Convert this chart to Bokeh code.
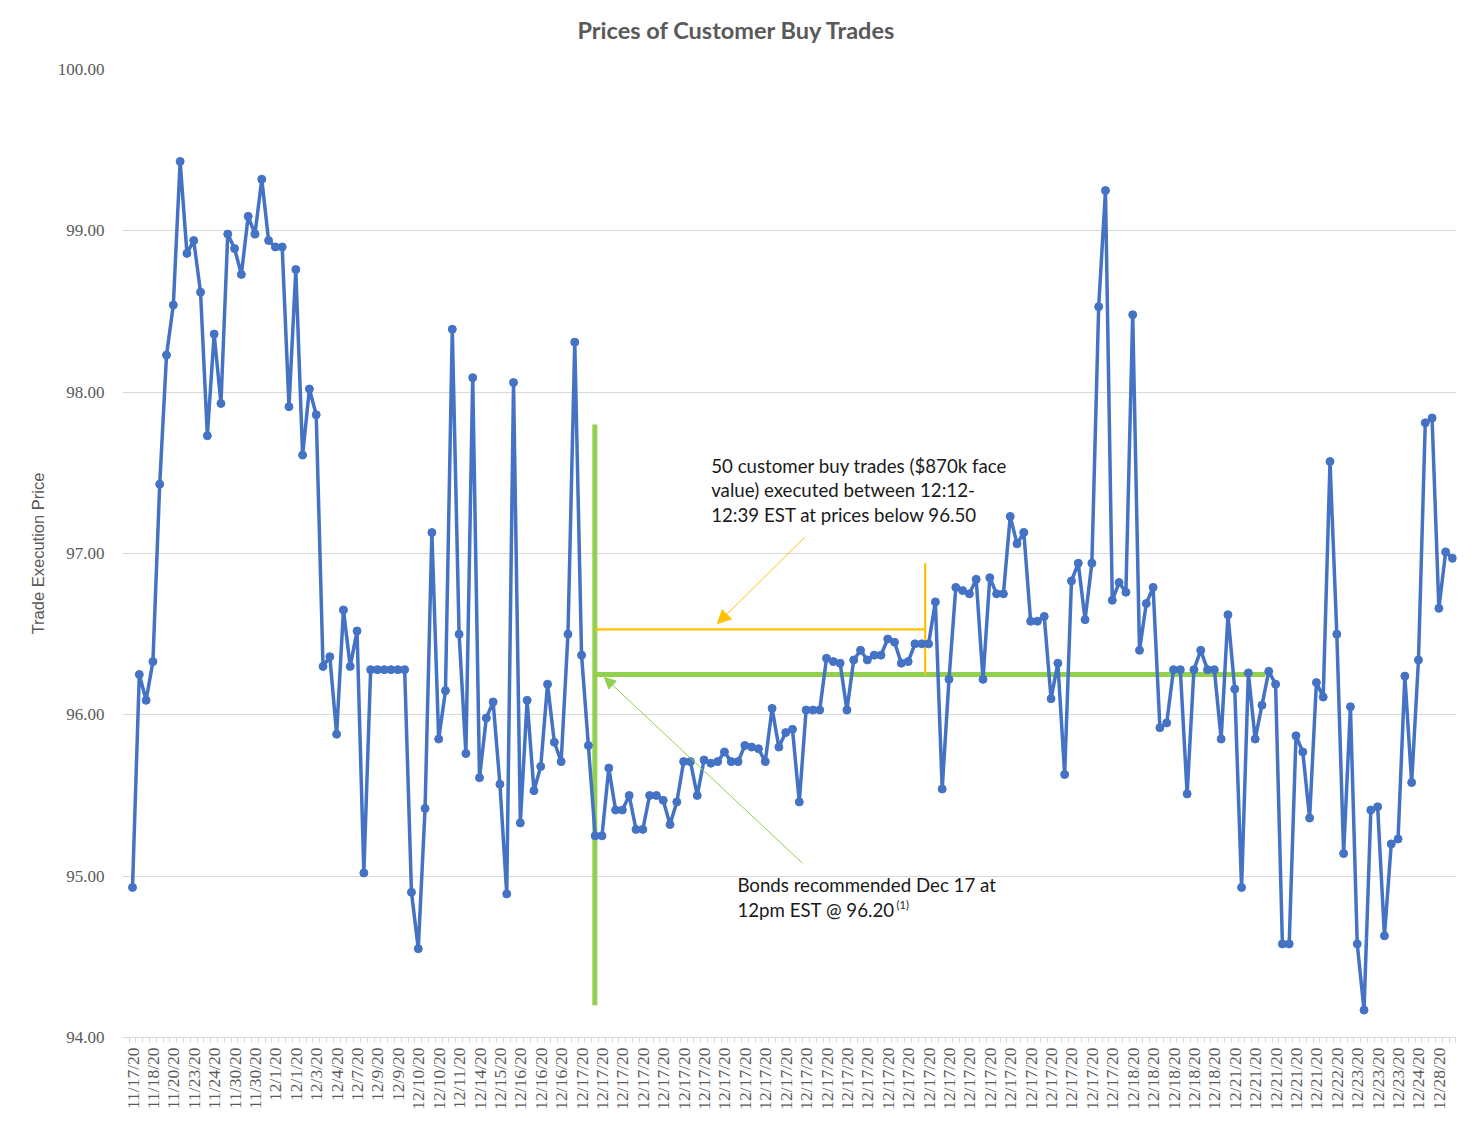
import math
from bokeh.plotting import figure
from bokeh.models import (Range1d, FixedTicker, NumeralTickFormatter, Label,
                          Arrow, NormalHead)
from bokeh.embed import file_html
from bokeh.resources import INLINE

# ---------------- data ----------------
tick_labels = (
    ["11/17/20", "11/18/20", "11/20/20", "11/23/20", "11/24/20", "11/30/20",
     "11/30/20", "12/1/20", "12/1/20", "12/3/20", "12/4/20", "12/7/20",
     "12/9/20", "12/9/20", "12/10/20", "12/10/20", "12/11/20", "12/14/20",
     "12/15/20", "12/16/20", "12/16/20", "12/16/20"]
    + ["12/17/20"] * 27
    + ["12/18/20"] * 5
    + ["12/21/20"] * 5
    + ["12/22/20"]
    + ["12/23/20"] * 3
    + ["12/24/20", "12/28/20"]
)
label_every = 3

prices = [
    94.93, 96.25, 96.09, 96.33, 97.43, 98.23, 98.54, 99.43, 98.86, 98.94,
    98.62, 97.73, 98.36, 97.93, 98.98, 98.89, 98.73, 99.09, 98.98, 99.32,
    98.94, 98.90, 98.90, 97.91, 98.76, 97.61, 98.02, 97.86, 96.30, 96.36,
    95.88, 96.65, 96.30, 96.52, 95.02, 96.28, 96.28, 96.28, 96.28, 96.28,
    96.28, 94.90, 94.55, 95.42, 97.13, 95.85, 96.15, 98.39, 96.50, 95.76,
    98.09, 95.61, 95.98, 96.08, 95.57, 94.89, 98.06, 95.33, 96.09, 95.53,
    95.68, 96.19, 95.83, 95.71, 96.50, 98.31, 96.37, 95.81, 95.25, 95.25,
    95.67, 95.41, 95.41, 95.50, 95.29, 95.29, 95.50, 95.50, 95.47, 95.32,
    95.46, 95.71, 95.71, 95.50, 95.72, 95.70, 95.71, 95.77, 95.71, 95.71,
    95.81, 95.80, 95.79, 95.71, 96.04, 95.80, 95.89, 95.91, 95.46, 96.03,
    96.03, 96.03, 96.35, 96.33, 96.32, 96.03, 96.34, 96.40, 96.34, 96.37,
    96.37, 96.47, 96.45, 96.32, 96.33, 96.44, 96.44, 96.44, 96.70, 95.54,
    96.22, 96.79, 96.77, 96.75, 96.84, 96.22, 96.85, 96.75, 96.75, 97.23,
    97.06, 97.13, 96.58, 96.58, 96.61, 96.10, 96.32, 95.63, 96.83, 96.94,
    96.59, 96.94, 98.53, 99.25, 96.71, 96.82, 96.76, 98.48, 96.40, 96.69,
    96.79, 95.92, 95.95, 96.28, 96.28, 95.51, 96.28, 96.40, 96.28, 96.28,
    95.85, 96.62, 96.16, 94.93, 96.26, 95.85, 96.06, 96.27, 96.19, 94.58,
    94.58, 95.87, 95.77, 95.36, 96.20, 96.11, 97.57, 96.50, 95.14, 96.05,
    94.58, 94.17, 95.41, 95.43, 94.63, 95.20, 95.23, 96.24, 95.58, 96.34,
    97.81, 97.84, 96.66, 97.01, 96.97,
]

y_ticks = [94, 95, 96, 97, 98, 99, 100]

# annotation values
rec_index = 68          # trade at time of recommendation (Dec 17, 12pm)
rec_price = 96.25       # recommended level line
rec_line_end = 166.5
threshold_price = 96.53
window_end = 116.5      # end of 12:12-12:39 window
window_top = 96.94

# ---------------- figure ----------------
n = len(prices)
idx = list(range(n))

BLUE = "#4472C4"
GREEN = "#92D050"
ORANGE = "#FFC000"
GRAY = "#595959"
GRID = "#D9D9D9"

p = figure(width=1470, height=1117, output_backend="svg", toolbar_location=None,
           x_range=Range1d(-1.47, n - 1 + 0.59), y_range=Range1d(94, 100),
           min_border_left=122, min_border_right=14, min_border_top=69,
           min_border_bottom=80)
p.outline_line_color = None
p.background_fill_color = "white"
p.border_fill_color = "white"

# title
p.title.text = "Prices of Customer Buy Trades"
p.title.align = "left"
p.title.offset = 455
p.title.text_font = "Lato"
p.title.text_font_size = "23.5px"
p.title.text_font_style = "bold"
p.title.text_color = GRAY
try:
    p.title.padding = dict(left=0, right=0, top=0, bottom=24)
    p.title.standoff = 4
except Exception:
    p.title.standoff = 36

# y axis
p.yaxis.ticker = FixedTicker(ticks=y_ticks)
p.yaxis.formatter = NumeralTickFormatter(format="0.00")
p.yaxis.axis_line_color = None
p.yaxis.major_tick_line_color = None
p.yaxis.minor_tick_line_color = None
p.yaxis.major_tick_out = 0
p.yaxis.major_label_standoff = 18
p.yaxis.major_label_text_font = "Liberation Serif"
p.yaxis.major_label_text_font_size = "17px"
p.yaxis.major_label_text_color = GRAY
p.yaxis.axis_label = "Trade Execution Price"
p.yaxis.axis_label_text_font = "Liberation Sans"
p.yaxis.axis_label_text_font_size = "16.5px"
p.yaxis.axis_label_text_font_style = "normal"
p.yaxis.axis_label_text_color = GRAY
p.yaxis.axis_label_standoff = 8

p.ygrid.grid_line_color = GRID
p.ygrid.grid_line_width = 1
p.xgrid.grid_line_color = None

# x axis
tick_pos = [i * label_every for i in range(len(tick_labels))]
p.xaxis.ticker = FixedTicker(ticks=tick_pos,
                             minor_ticks=[i - 0.5 for i in range(n + 1)])
p.xaxis.major_label_overrides = {t: lab for t, lab in zip(tick_pos, tick_labels)}
p.xaxis.major_label_orientation = math.pi / 2
p.xaxis.axis_line_color = GRID
p.xaxis.major_tick_line_color = None
p.xaxis.major_tick_out = 0
p.xaxis.major_tick_in = 0
p.xaxis.minor_tick_line_color = GRID
p.xaxis.minor_tick_out = 5
p.xaxis.minor_tick_in = 0
p.xaxis.major_label_standoff = 5
p.xaxis.major_label_text_font = "Liberation Serif"
p.xaxis.major_label_text_font_size = "17.5px"
p.xaxis.major_label_text_color = GRAY

# annotation lines (behind series)
p.line([rec_index - 0.05, rec_index - 0.05], [94.2, 97.8], line_color=GREEN, line_width=5)
p.line([rec_index - 0.05, rec_line_end], [rec_price, rec_price], line_color=GREEN, line_width=5)
p.line([rec_index - 0.05, window_end], [threshold_price, threshold_price],
       line_color=ORANGE, line_width=2.2)
p.line([window_end, window_end], [rec_price, window_top], line_color=ORANGE, line_width=2.2)

# series
p.line(idx, prices, line_color=BLUE, line_width=3.5, line_join="round")
p.scatter(idx, prices, size=8, fill_color=BLUE, line_color=BLUE)

# arrows
p.add_layout(Arrow(end=NormalHead(size=13, fill_color=ORANGE, line_color=ORANGE),
                   x_start=98.77, y_start=97.10, x_end=85.98, y_end=96.566,
                   line_color=ORANGE, line_width=1))
p.add_layout(Arrow(end=NormalHead(size=11, fill_color=GREEN, line_color=GREEN),
                   x_start=98.47, y_start=95.08, x_end=69.37, y_end=96.231,
                   line_color=GREEN, line_width=1))

# texts
def add_text(x, y, text, size, color="black", font="Lato", style="normal", align="left"):
    p.add_layout(Label(x=x, y=y, text=text, text_font=font, text_font_size=size,
                       text_color=color, text_font_style=style, text_align=align,
                       text_baseline="middle"))

note1 = ["50 customer buy trades ($870k face",
         "value) executed between 12:12-",
         "12:39 EST at prices below 96.50"]
for k, line in enumerate(note1):
    add_text(85.05, 97.545 - k * 0.152, line, "18.7px", "#1A1A1A")

note2 = ["Bonds recommended Dec 17 at", "12pm EST @ 96.20"]
for k, line in enumerate(note2):
    add_text(88.9, 94.948 - k * 0.155, line, "18.7px", "#1A1A1A")
add_text(112.3, 94.825, "(1)", "11px", "#1A1A1A")

open("out.html", "w").write(file_html(p, INLINE))
